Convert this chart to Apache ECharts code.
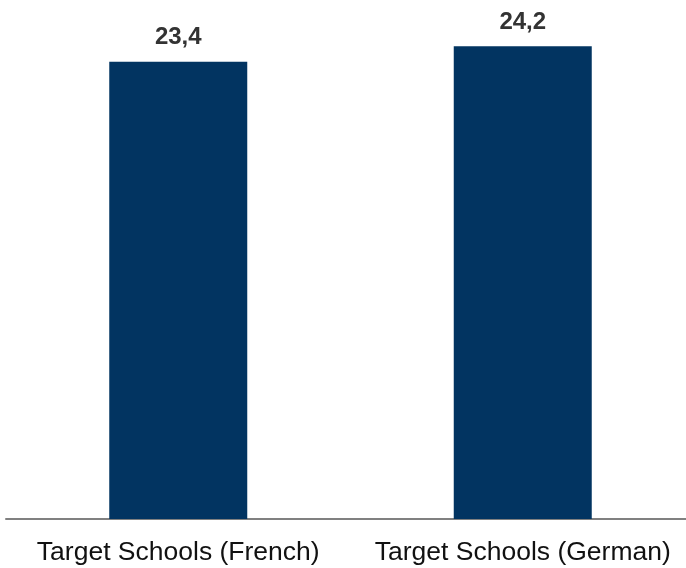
<!DOCTYPE html>
<html>
<head>
<meta charset="utf-8">
<script src="https://cdn.jsdelivr.net/npm/echarts@6/dist/echarts.min.js"></script>
<style>
  html, body { margin: 0; padding: 0; background: #fff; overflow: hidden; }
  #chart { width: 695px; height: 568px; }
</style>
</head>
<body>
<div id="chart"></div>
<script>
const categories = ['Target Schools (French)', 'Target Schools (German)'];
const values = [23.4, 24.2];

const chart = echarts.init(document.getElementById('chart'));
chart.setOption({
  animation: false,
  grid: { left: 6, right: 0, top: 11, bottom: 49 },
  xAxis: {
    type: 'category',
    data: categories,
    axisLine: { lineStyle: { color: '#808080', width: 2 } },
    axisTick: { show: false },
    axisLabel: {
      interval: 0,
      color: '#111',
      fontFamily: 'Liberation Sans, Arial, sans-serif',
      fontSize: 26.5,
      margin: 20
    }
  },
  yAxis: {
    type: 'value',
    min: 0,
    max: 26,
    show: false
  },
  series: [{
    type: 'bar',
    data: values,
    barWidth: 138,
    itemStyle: { color: '#023461' },
    label: {
      show: true,
      position: 'top',
      distance: 12,
      color: '#333',
      fontWeight: 'bold',
      fontFamily: 'Liberation Sans, Arial, sans-serif',
      fontSize: 24,
      formatter: p => String(p.value).replace('.', ',')
    }
  }]
});
</script>
</body>
</html>
